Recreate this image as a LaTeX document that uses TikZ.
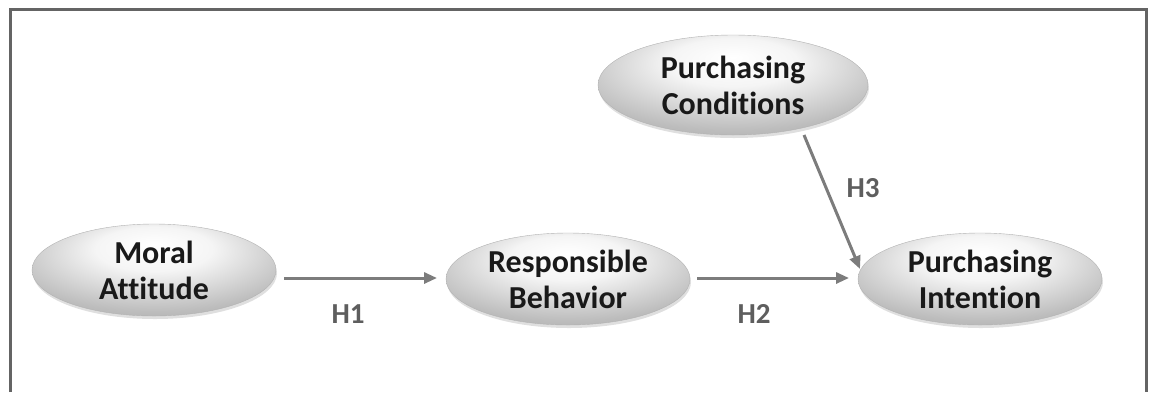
\documentclass[tikz,border=0pt]{standalone}
\usepackage{fontspec}
\setmainfont{Carlito}[Ligatures=NoCommon]
\usepackage{tikz}
\usetikzlibrary{arrows.meta, shapes.geometric, shadows}
\definecolor{framegray}{HTML}{646464}
\definecolor{arrowgray}{HTML}{7C7C7C}
\definecolor{labelgray}{HTML}{5E5E5E}
\pgfdeclareradialshading{ovalshade}{\pgfpoint{0bp}{14bp}}{color(0bp)=(white); color(12bp)=(white!96!black); color(30bp)=(white!74!black); color(50bp)=(white!58!black); color(64bp)=(white!46!black)}
\tikzset{
  construct/.style={ellipse, shading=ovalshade, draw=white!70!black, thin,
    minimum width=244pt, minimum height=92pt, inner sep=0pt, align=center,
    text=black!90, font=\fontsize{32}{36}\selectfont\bfseries,
    drop shadow={opacity=0.25, shadow xshift=1pt, shadow yshift=-3pt}},
  path/.style={draw=arrowgray, line width=3pt, -{Triangle[length=13pt, width=11pt]}},
  hyp/.style={text=labelgray, font=\fontsize{29}{32}\selectfont\bfseries}
}

\begin{document}
\begin{tikzpicture}[x=1pt, y=-1pt]
\useasboundingbox (0,0) rectangle (1149,392);
\draw[framegray, line width=2.5pt] (10.5,392) -- (10.5,9.5) -- (1146.5,9.5) -- (1146.5,392);

\node[construct] (moral) at (154,270) {Moral\\Attitude};
\node[construct] (resp) at (568,279) {Responsible\\Behavior};
\node[construct, minimum width=270pt, minimum height=100pt] (cond) at (733,85) {Purchasing\\Conditions};
\node[construct] (intent) at (980,279) {Purchasing\\Intention};

\coordinate (h1s) at (284,278);
\coordinate (h1e) at (437,278);
\coordinate (h2s) at (697,278);
\coordinate (h2e) at (849,278);
\coordinate (h3s) at (804,135);
\coordinate (h3e) at (860,269);

\draw[path] (h1s) -- (h1e);
\draw[path] (h2s) -- (h2e);
\draw[path] (h3s) -- (h3e);

\node[hyp] (l1) at (348,314) {H1};
\node[hyp] (l2) at (754,314) {H2};
\node[hyp] (l3) at (863,188) {H3};

\end{tikzpicture}
\end{document}
